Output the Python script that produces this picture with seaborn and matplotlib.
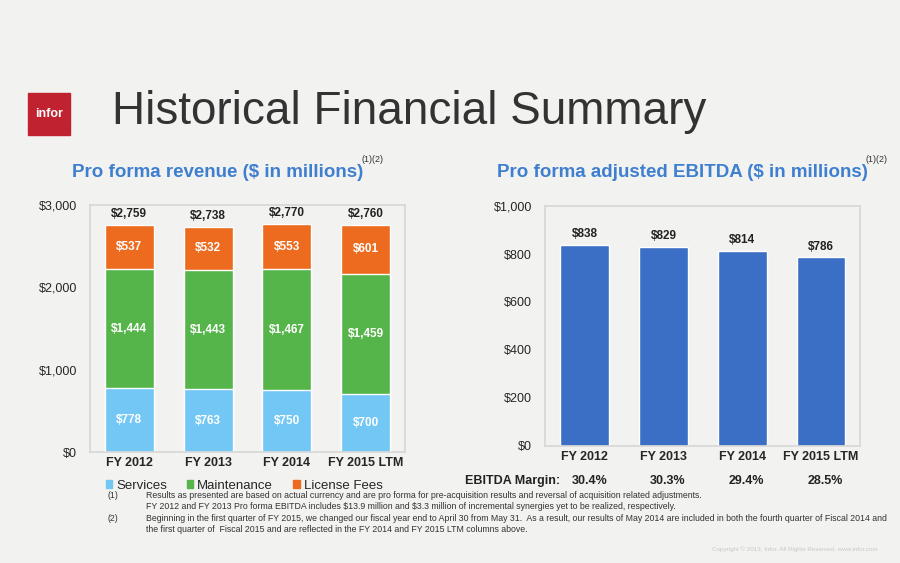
import matplotlib.pyplot as plt
import matplotlib.patches as mpatches
import seaborn as sns
import pandas as pd

years = ["FY 2012", "FY 2013", "FY 2014", "FY 2015 LTM"]
services = [778, 763, 750, 700]
maintenance = [1444, 1443, 1467, 1459]
license_fees = [537, 532, 553, 601]
totals = [2759, 2738, 2770, 2760]
ebitda = [838, 829, 814, 786]
margins = ["30.4%", "30.3%", "29.4%", "28.5%"]

bg = "#f2f2f0"
c_serv, c_maint, c_lic = "#72c7f4", "#55b44a", "#ec6b1e"
c_ebitda = "#3b6fc6"
blue_title = "#3f7fd0"

sns.set_theme(style="white")
plt.rcParams["font.family"] = ["Liberation Sans", "DejaVu Sans"]

df = pd.DataFrame({"year": years, "serv": services,
                   "sm": [s + m for s, m in zip(services, maintenance)],
                   "total": [s + m + l for s, m, l in zip(services, maintenance, license_fees)],
                   "ebitda": ebitda})

fig = plt.figure(figsize=(9, 5.63), dpi=100, facecolor=bg)

# title and logo
fig.patches.append(mpatches.Rectangle((0.031, 0.76), 0.047, 0.075, transform=fig.transFigure,
                                      color="#c0222f", figure=fig))
fig.text(0.0545, 0.797, "infor", color="white", fontsize=9, fontweight="bold", ha="center", va="center")
fig.text(0.125, 0.762, "Historical Financial Summary", fontsize=33, color="#333333", va="bottom")
fig.text(0.08, 0.685, "Pro forma revenue ($ in millions)", fontsize=13.5, fontweight="bold", color=blue_title)
fig.text(0.402, 0.712, "(1)(2)", fontsize=6.5, color="#333333")
fig.text(0.552, 0.685, "Pro forma adjusted EBITDA ($ in millions)", fontsize=13.5, fontweight="bold", color=blue_title)
fig.text(0.962, 0.712, "(1)(2)", fontsize=6.5, color="#333333")

# revenue chart
ax = fig.add_axes([0.1, 0.197, 0.35, 0.439])
ax.set_facecolor(bg)
for col, c in [("total", c_lic), ("sm", c_maint), ("serv", c_serv)]:
    sns.barplot(data=df, x="year", y=col, color=c, width=0.62, edgecolor="white",
                linewidth=1, saturation=1, ax=ax)
ax.set_ylim(0, 3000)
ax.set_yticks([0, 1000, 2000, 3000])
ax.set_yticklabels(["$0", "$1,000", "$2,000", "$3,000"], fontsize=9)
ax.set_xlabel("")
ax.set_ylabel("")
ax.tick_params(axis="x", labelsize=9, length=0)
for t in ax.get_xticklabels():
    t.set_fontweight("bold")
for s in ax.spines.values():
    s.set_color("#d8d8d8")
for i in range(len(years)):
    ax.text(i, services[i] / 2, f"${services[i]:,}", color="white", fontsize=8.5, fontweight="bold", ha="center", va="center")
    ax.text(i, services[i] + maintenance[i] / 2, f"${maintenance[i]:,}", color="white", fontsize=8.5, fontweight="bold", ha="center", va="center")
    ax.text(i, df["sm"][i] + license_fees[i] / 2, f"${license_fees[i]}", color="white", fontsize=8.5, fontweight="bold", ha="center", va="center")
    ax.text(i, totals[i] + 60, f"${totals[i]:,}", fontsize=8.5, fontweight="bold", ha="center", va="bottom", color="#222222")

handles = [mpatches.Patch(color=c_serv, label="Services"),
           mpatches.Patch(color=c_maint, label="Maintenance"),
           mpatches.Patch(color=c_lic, label="License Fees")]
fig.legend(handles=handles, loc="lower left", bbox_to_anchor=(0.11, 0.115), ncol=3, frameon=False,
           fontsize=9.5, handlelength=0.5, handleheight=0.5, handletextpad=0.3, columnspacing=1.5,
           borderpad=0)

# EBITDA chart
ax2 = fig.add_axes([0.606, 0.208, 0.35, 0.426])
ax2.set_facecolor(bg)
sns.barplot(data=df, x="year", y="ebitda", color=c_ebitda, width=0.62, saturation=1, ax=ax2)
ax2.set_ylim(0, 1000)
ax2.set_yticks(range(0, 1001, 200))
ax2.set_yticklabels([f"${v:,}" for v in range(0, 1001, 200)], fontsize=9)
ax2.set_xlabel("")
ax2.set_ylabel("")
ax2.tick_params(axis="x", labelsize=9, length=0)
for t in ax2.get_xticklabels():
    t.set_fontweight("bold")
for s in ax2.spines.values():
    s.set_color("#d8d8d8")
for i, v in enumerate(ebitda):
    ax2.text(i, v + 20, f"${v}", fontsize=8.5, fontweight="bold", ha="center", va="bottom", color="#222222")

fig.text(0.622, 0.14, "EBITDA Margin:", fontsize=9, fontweight="bold", ha="right", color="#222222")
for i, m in enumerate(margins):
    x = 0.606 + 0.35 * (i + 0.5) / 4
    fig.text(x + 0.005, 0.14, m, fontsize=9, fontweight="bold", ha="center", color="#222222")

# footnotes
fn = 6.3
notes = [
    (0.115, "(1)", "Results as presented are based on actual currency and are pro forma for pre-acquisition results and reversal of acquisition related adjustments."),
    (0.096, "", "FY 2012 and FY 2013 Pro forma EBITDA includes \\$13.9 million and \\$3.3 million of incremental synergies yet to be realized, respectively."),
    (0.074, "(2)", "Beginning in the first quarter of FY 2015, we changed our fiscal year end to April 30 from May 31.  As a result, our results of May 2014 are included in both the fourth quarter of Fiscal 2014 and"),
    (0.055, "", "the first quarter of  Fiscal 2015 and are reflected in the FY 2014 and FY 2015 LTM columns above."),
]
for y, num, txt in notes:
    if num:
        fig.text(0.12, y, num, fontsize=fn, color="#333333")
    fig.text(0.162, y, txt, fontsize=fn, color="#333333")
fig.text(0.975, 0.022, "Copyright \u00a9 2013. Infor. All Rights Reserved. www.infor.com", fontsize=4.5, color="#c8c8c8", ha="right")

fig.savefig("out.png", dpi=100, facecolor=bg)
